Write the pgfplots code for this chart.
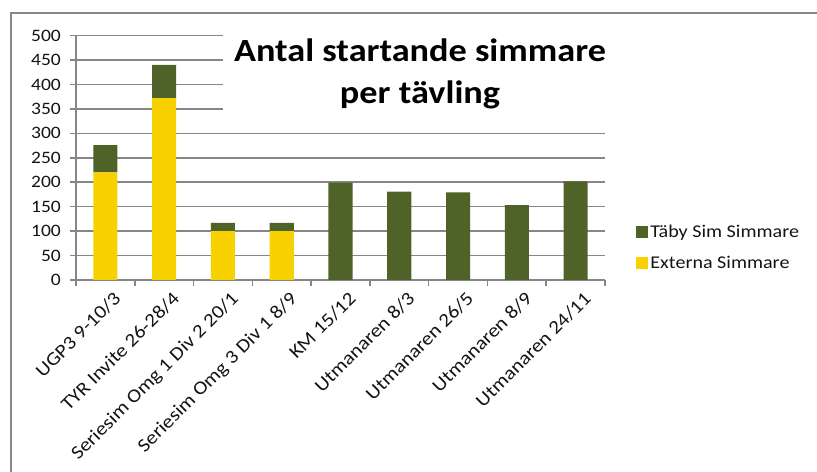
\documentclass[border=0pt]{standalone}
\usepackage{fontspec}
\setmainfont{Carlito}[FakeStretch=1.12]
\usepackage{pgfplots}
\pgfplotsset{compat=1.18}
\definecolor{gridgray}{RGB}{134,134,134}
\definecolor{tabygreen}{RGB}{79,98,40}
\definecolor{extyellow}{RGB}{248,210,0}
\definecolor{txt}{RGB}{20,20,20}
\begin{document}
\begin{tikzpicture}[x=1bp,y=1bp]
\path[use as bounding box] (0,0) rectangle (817,472);
\draw[gridgray,line width=1.5bp] (11,0) -- (11,459) -- (817,459);
\begin{axis}[
  at={(76bp,192bp)}, anchor=south west,
  scale only axis, width=529bp, height=244.4bp,
  ymin=0, ymax=500, ytick={0,50,...,500},
  xmin=-0.5, xmax=8.5,
  ybar stacked, bar width=0.41,
  xtick={0,...,8},
  xticklabels={UGP3 9-10/3, TYR Invite 26-28/4, Seriesim Omg 1 Div 2 20/1, Seriesim Omg 3 Div 1 8/9, KM 15/12, Utmanaren 8/3, Utmanaren 26/5, Utmanaren 8/9, Utmanaren 24/11},
  major x tick style={draw=none},
  minor xtick={-0.5,0.5,...,8.5},
  tick align=outside, major tick length=6bp, minor tick length=6bp,
  ymajorgrids, grid style={gridgray, line width=1.5bp},
  axis x line*=bottom, axis y line*=left,
  axis line style={-,gridgray,line width=1.5bp},
  tick style={gridgray,line width=1.5bp},
  /pgf/number format/assume math mode=true,
  ticklabel style={text=txt},
  xticklabel style={font=\fontsize{19}{22}\selectfont, rotate=45, anchor=north east, inner sep=1bp, xshift=3bp, yshift=-7bp},
  yticklabel style={font=\fontsize{17.5}{20}\selectfont, inner sep=2bp, xshift=-7bp},
  legend style={at={(rel axis cs:1.059,0.133)}, anchor=west, draw=none, fill=none,
    font=\fontsize{18}{21}\selectfont, text=txt, row sep=14bp, inner sep=0pt},
  legend cell align=left,
  reverse legend,
  legend image code/.code={\path[#1,draw=none] (0bp,-6bp) rectangle (12bp,6bp);},
]
\addplot[fill=extyellow, draw=none] coordinates {(0,220)(1,372)(2,100)(3,100)(4,0)(5,0)(6,0)(7,0)(8,0)};
\addplot[fill=tabygreen, draw=none] coordinates {(0,56)(1,68)(2,17)(3,17)(4,199)(5,181)(6,179)(7,153)(8,202)};
\legend{Externa Simmare, Täby Sim Simmare}
\end{axis}
\fill[white] (223,347) rectangle (617,442);
\node[anchor=base, font=\fontsize{32.5}{40}\selectfont\bfseries, inner sep=0pt] at (420,410) {Antal startande simmare};
\node[anchor=base, font=\fontsize{32.5}{40}\selectfont\bfseries, inner sep=0pt] at (420,368) {per tävling};
\end{tikzpicture}
\end{document}
